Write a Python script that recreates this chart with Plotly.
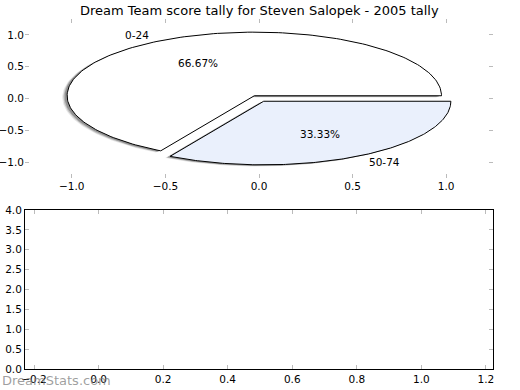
import numpy as np
import plotly.graph_objects as go

# ---- data ----
labels = ["0-24", "50-74"]
values = [2, 1]
colors = ["#FFFFFF", "#EAF0FC"]
explode = [0.05, 0.05]
title = "Dream Team score tally for Steven Salopek - 2005 tally"
pie_ticks = [-1.0, -0.5, 0.0, 0.5, 1.0]
bottom_xticks = [-0.2, 0.0, 0.2, 0.4, 0.6, 0.8, 1.0, 1.2]
bottom_yticks = [0.0, 0.5, 1.0, 1.5, 2.0, 2.5, 3.0, 3.5, 4.0]

W, H = 520, 390
FONT = "DejaVu Sans"

fig = go.Figure()

total = float(sum(values))
fracs = [v / total for v in values]
start = 0.0
wedges = []
for lab, f, col, ex in zip(labels, fracs, colors, explode):
    t1 = start * 360.0
    t2 = (start + f) * 360.0
    mid = np.deg2rad((t1 + t2) / 2)
    cx, cy = ex * np.cos(mid), ex * np.sin(mid)
    th = np.deg2rad(np.linspace(t1, t2, 181))
    xs = np.concatenate([[cx], cx + np.cos(th), [cx]])
    ys = np.concatenate([[cy], cy + np.sin(th), [cy]])
    wedges.append((lab, f, col, cx, cy, mid, xs, ys))
    start += f

# shadows (soft)
for (lab, f, col, cx, cy, mid, xs, ys) in wedges:
    for off, a in [(0.026, 0.12), (0.02, 0.22), (0.014, 0.35)]:
        fig.add_trace(go.Scatter(x=xs - off, y=ys - off, mode="lines", fill="toself",
                                 fillcolor=f"rgba(60,60,60,{a})", line=dict(width=0),
                                 hoverinfo="skip", showlegend=False, xaxis="x", yaxis="y"))

# wedges
for (lab, f, col, cx, cy, mid, xs, ys) in wedges:
    fig.add_trace(go.Scatter(x=xs, y=ys, mode="lines", fill="toself", fillcolor=col,
                             line=dict(color="black", width=1), hoverinfo="skip",
                             showlegend=False, xaxis="x", yaxis="y"))

# labels
for (lab, f, col, cx, cy, mid, xs, ys) in wedges:
    lx, ly = cx + 1.1 * np.cos(mid), cy + 1.1 * np.sin(mid)
    fig.add_annotation(x=lx, y=ly, xref="x", yref="y", text=lab, showarrow=False,
                       xanchor="right" if lx < 0 else "left", yanchor="middle",
                       font=dict(family=FONT, size=10.5, color="black"))
    px, py = cx + 0.6 * np.cos(mid), cy + 0.6 * np.sin(mid)
    fig.add_annotation(x=px, y=py, xref="x", yref="y", text=f"{f*100:.2f}%",
                       showarrow=False, xanchor="center", yanchor="middle",
                       font=dict(family=FONT, size=10.5, color="black"))

# empty trace for bottom axes
fig.add_trace(go.Scatter(x=[], y=[], xaxis="x2", yaxis="y2", showlegend=False))

tickfont = dict(family=FONT, size=10.5, color="black")
common = dict(ticks="inside", ticklen=4, tickcolor="#bbbbbb", tickwidth=1,
              showgrid=False, zeroline=False, tickfont=tickfont, tickformat=".1f",
              automargin=False)

fig.update_layout(
    width=W, height=H,
    margin=dict(l=0, r=0, t=0, b=0, pad=0, autoexpand=False),
    paper_bgcolor="white", plot_bgcolor="white",
    xaxis=dict(domain=[25 / W, 493 / W], range=[-1.25, 1.25], tickvals=pie_ticks,
               anchor="y", showline=False, mirror="ticks", **common),
    yaxis=dict(domain=[1 - 178 / H, 1 - 19 / H], range=[-1.25, 1.25], tickvals=pie_ticks,
               anchor="x", showline=False, mirror="ticks", **common),
    xaxis2=dict(domain=[25 / W, 493 / W], range=[-0.228, 1.222], tickvals=bottom_xticks,
                anchor="y2", showline=True, linecolor="black", linewidth=1,
                mirror="ticks", **common),
    yaxis2=dict(domain=[1 - 369 / H, 1 - 210 / H], range=[0, 4], tickvals=bottom_yticks,
                anchor="x2", showline=True, linecolor="black", linewidth=1,
                mirror="ticks", **common),
)

fig.add_annotation(x=259 / W, y=1 - 10 / H, xref="paper", yref="paper", text=title,
                   showarrow=False, xanchor="center", yanchor="middle",
                   font=dict(family=FONT, size=13, color="black"))
fig.add_annotation(x=0, y=1 - 380 / H, xref="paper", yref="paper", text="DreamStats.com",
                   showarrow=False, xanchor="left", yanchor="middle",
                   font=dict(family=FONT, size=13, color="rgba(128,128,128,0.75)"))

fig.write_html("out.html", config={"displayModeBar": False},
               post_script="document.body.style.margin='0';document.body.style.padding='0';")
